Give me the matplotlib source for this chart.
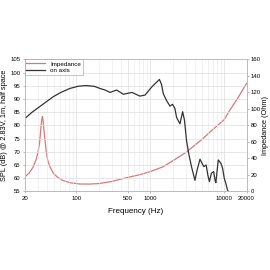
import matplotlib
matplotlib.use("Agg")
import matplotlib.pyplot as plt
from matplotlib.ticker import FixedLocator, NullFormatter

plt.rcParams['font.family'] = ['Liberation Sans', 'DejaVu Sans']

# on-axis SPL (dB)
spl_freq = [20, 25, 32, 40, 49, 62, 82, 105, 136, 175, 209, 245, 286, 351, 433, 566,
            723, 850, 1050, 1200, 1330, 1420, 1500, 1670, 1850, 2000, 2150, 2270, 2520,
            2740, 2900, 3100, 3300, 3600, 4020, 4300, 4700, 5000, 5300, 5700, 6000, 6300,
            6700, 7200, 7500, 7700, 8300, 9000, 9500, 10000, 10500, 11000, 11300]
spl_db = [82.5, 84.9, 87.1, 89.1, 90.9, 92.5, 94.0, 94.8, 95.1, 94.8, 94.0, 93.4, 92.5,
          93.4, 91.8, 92.5, 91.1, 91.5, 94.6, 96.2, 97.4, 95.5, 92.0, 89.3, 87.3, 88.0,
          86.5, 83.0, 80.6, 85.2, 82.0, 74.0, 69.5, 64.5, 59.2, 63.1, 67.2, 65.7, 64.4,
          65.0, 61.2, 58.7, 61.9, 62.5, 59.3, 58.3, 66.9, 65.7, 63.8, 60.0, 58.1, 55.8, 55.0]

# impedance (Ohm)
imp_freq = [20, 23, 26.3, 29, 30.7, 32, 33, 34, 34.8, 35.6, 36.6, 38, 39, 41, 44, 49,
            54.5, 65, 82, 112, 150, 200, 300, 500, 700, 1000, 1500, 2000, 3000, 4000,
            5000, 7000, 10000, 12000, 15000, 20000]
imp_ohm = [17.5, 22, 30, 40, 50, 60, 74, 86, 91, 86, 74, 60, 50, 38, 30, 22,
           18, 13.5, 10.5, 9.0, 8.9, 9.5, 12, 17, 20, 24, 30, 37, 47, 56,
           63, 75, 87, 99, 112, 131]

x_ticks = [20, 100, 500, 1000, 10000, 20000]
spl_ticks = [55, 60, 65, 70, 75, 80, 85, 90, 95, 100, 105]
imp_ticks = [0, 20, 40, 60, 80, 100, 120, 140, 160]

fig = plt.figure(figsize=(2.7, 2.7), dpi=100)
ax = fig.add_axes([0.091, 0.291, 0.822, 0.489])
ax2 = ax.twinx()

ax.set_xscale('log')
ax.set_xlim(20, 20000)
ax.set_ylim(55, 105)
ax2.set_ylim(0, 160)

l2, = ax2.plot(imp_freq, imp_ohm, color='#d9777b', lw=0.9, label='Impedance')
l1, = ax.plot(spl_freq, spl_db, color='#333333', lw=0.9, label='on axis')
ax.set_zorder(ax2.get_zorder() + 1)
ax.patch.set_visible(False)

ax.xaxis.set_major_locator(FixedLocator(x_ticks))
ax.set_xticklabels([str(t) for t in x_ticks])
ax.xaxis.set_minor_formatter(NullFormatter())
ax.set_yticks(spl_ticks)
ax2.set_yticks(imp_ticks)

ax2.grid(False)
ax.grid(True, which='major', color='#dddddd', lw=0.5)
ax.grid(True, which='minor', axis='x', color='#e6e6e6', lw=0.4)

for a in (ax, ax2):
    for s in a.spines.values():
        s.set_color('#bbbbbb')
        s.set_linewidth(0.6)
    a.tick_params(labelsize=4.3, length=1.5, width=0.4, color='#888888', pad=1.5)
ax.tick_params(which='minor', length=0)

ax.set_xlabel('Frequency (Hz)', fontsize=5.8, labelpad=5)
ax.set_ylabel('SPL (dB) @ 2.83V, 1m, half space', fontsize=5.3, labelpad=2)
ax2.set_ylabel('Impedance (Ohm)', fontsize=5.3, labelpad=1)

leg = ax.legend([l2, l1], ['Impedance', 'on axis'], loc='upper left', fontsize=4.5,
                frameon=True, fancybox=False, borderaxespad=0, handlelength=3,
                borderpad=0.3, labelspacing=0.15)
leg.get_frame().set_edgecolor('#999999')
leg.get_frame().set_linewidth(0.5)

fig.savefig('out.png', dpi=100)
